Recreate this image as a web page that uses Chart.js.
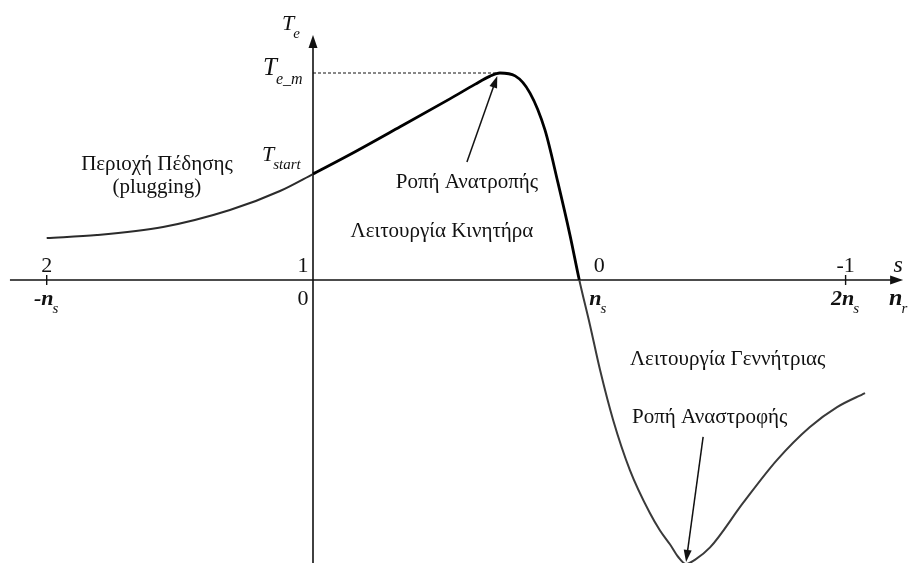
<!DOCTYPE html>
<html>
<head>
<meta charset="utf-8">
<script src="https://cdn.jsdelivr.net/npm/chart.js@4/dist/chart.umd.min.js"></script>
<style>
  html, body { margin: 0; padding: 0; background: #fff; }
  canvas { display: block; }
</style>
</head>
<body>
<canvas id="torqueChart" width="909" height="563"></canvas>
<script>
// rotor speed in units of n_s, and electromagnetic torque in units of T_e_m
const speedRatio = [-1.0, -0.811, -0.563, -0.312, -0.124, 0, 0.139, 0.327, 0.514, 0.608, 0.665, 0.702,
  0.759, 0.815, 0.871, 0.920, 0.965, 1.0, 1.040, 1.078, 1.127, 1.190, 1.265, 1.303, 1.341, 1.371, 1.401,
  1.434, 1.491, 1.615, 1.742, 1.866, 1.968, 2.073];
const torque = [0.203, 0.217, 0.256, 0.338, 0.430, 0.512, 0.606, 0.740, 0.875, 0.945, 0.985, 1.0,
  0.986, 0.903, 0.725, 0.469, 0.217, 0, -0.217, -0.435, -0.676, -0.918, -1.126, -1.210, -1.278, -1.337, -1.372,
  -1.352, -1.292, -1.077, -0.870, -0.710, -0.614, -0.546];

const speedTicks = [-1, 0, 1, 2];
const slipLabels = ['2', '1', '0', '-1'];
const speedLabels = [['-n', 's'], ['0', ''], ['n', 's'], ['2n', 's']];

const startTorque = 0.512;
const maxTorque = 1.0;
const maxTorqueSpeed = 0.702;
const minTorque = -1.372;
const minTorqueSpeed = 1.401;

const serif = '"Liberation Serif", "DejaVu Serif", serif';

function arrow(ctx, x1, y1, x2, y2, head, width) {
  const a = Math.atan2(y2 - y1, x2 - x1);
  ctx.beginPath();
  ctx.moveTo(x1, y1);
  ctx.lineTo(x2 - Math.cos(a) * head * 0.8, y2 - Math.sin(a) * head * 0.8);
  ctx.stroke();
  ctx.beginPath();
  ctx.moveTo(x2, y2);
  ctx.lineTo(x2 - head * Math.cos(a) + width * Math.sin(a), y2 - head * Math.sin(a) - width * Math.cos(a));
  ctx.lineTo(x2 - head * Math.cos(a) - width * Math.sin(a), y2 - head * Math.sin(a) + width * Math.cos(a));
  ctx.closePath();
  ctx.fill();
}

function label(ctx, str, x, y, font, align) {
  ctx.font = font;
  ctx.textAlign = align || 'left';
  ctx.textBaseline = 'alphabetic';
  ctx.fillText(str, x, y);
}

// symbol with a subscript, e.g. T_start
function symbol(ctx, main, sub, x, y, size, subSize, bold) {
  const w = bold ? 'bold ' : '';
  ctx.font = 'italic ' + w + size + 'px ' + serif;
  ctx.textAlign = 'left';
  ctx.fillText(main, x, y);
  const mw = ctx.measureText(main).width;
  ctx.font = 'italic ' + subSize + 'px ' + serif;
  ctx.fillText(sub, x + mw - 1, y + Math.round(size * 0.35));
}

const axesPlugin = {
  id: 'machineAxes',
  beforeDatasetsDraw(chart) {
    const ctx = chart.ctx;
    const xs = chart.scales.x, ys = chart.scales.y;
    const x0 = xs.getPixelForValue(0), y0 = ys.getPixelForValue(0);
    ctx.save();
    ctx.strokeStyle = '#111';
    ctx.fillStyle = '#111';
    ctx.lineWidth = 1.6;
    // speed axis
    arrow(ctx, xs.getPixelForValue(-1.138), y0, xs.getPixelForValue(2.216), y0, 13, 4.5);
    // torque axis
    arrow(ctx, x0, ys.getPixelForValue(ys.min), x0, ys.getPixelForValue(1.184), 13, 4.5);
    // tick marks
    ctx.lineWidth = 1.4;
    [-1, 2].forEach(v => {
      const px = xs.getPixelForValue(v);
      ctx.beginPath();
      ctx.moveTo(px, y0 - 5);
      ctx.lineTo(px, y0 + 5);
      ctx.stroke();
    });
    // dashed level of the breakdown torque
    ctx.lineWidth = 1;
    ctx.setLineDash([3, 2]);
    ctx.beginPath();
    ctx.moveTo(x0, ys.getPixelForValue(maxTorque));
    ctx.lineTo(xs.getPixelForValue(maxTorqueSpeed), ys.getPixelForValue(maxTorque));
    ctx.stroke();
    ctx.restore();
  },
  afterDatasetsDraw(chart) {
    const ctx = chart.ctx;
    const xs = chart.scales.x, ys = chart.scales.y;
    const px = v => xs.getPixelForValue(v);
    const py = v => ys.getPixelForValue(v);
    const x0 = px(0), y0 = py(0);
    ctx.save();
    ctx.fillStyle = '#111';
    ctx.strokeStyle = '#111';

    // slip labels above the axis, speed labels below
    speedTicks.forEach((v, i) => {
      const tx = v === 0 ? x0 - 10 : px(v) + (v === 1 ? 20 : 0);
      label(ctx, slipLabels[i], tx, y0 - 8, '22px ' + serif, 'center');
      const [main, sub] = speedLabels[i];
      if (sub) {
        ctx.font = 'italic bold 22px ' + serif;
        const w = ctx.measureText(main).width;
        let sx = px(v) - w / 2 - 3;
        if (v === 1) sx = px(v) + 10;
        symbol(ctx, main, sub, sx, y0 + 25, 22, 15, true);
      } else {
        label(ctx, main, x0 - 10, y0 + 25, '22px ' + serif, 'center');
      }
    });
    label(ctx, 's', px(2.216) - 5, y0 - 8, 'italic 24px ' + serif, 'center');
    symbol(ctx, 'n', 'r', px(2.216) - 14, y0 + 25, 24, 15, true);

    // torque symbols on the vertical axis
    symbol(ctx, 'T', 'e', x0 - 31, py(1.184) - 5, 22, 15);
    symbol(ctx, 'T', 'e_m', x0 - 50, py(maxTorque) + 2, 25, 16);
    symbol(ctx, 'T', 'start', x0 - 51, py(startTorque) - 13, 22, 15);

    // region captions
    const f = '21px ' + serif;
    label(ctx, 'Περιοχή Πέδησης', px(-0.586), py(0.531), f, 'center');
    label(ctx, '(plugging)', px(-0.586), py(0.421), f, 'center');
    label(ctx, 'Ροπή Ανατροπής', px(0.578), py(0.444), f, 'center');
    label(ctx, 'Λειτουργία Κινητήρα', px(0.484), py(0.208), f, 'center');
    label(ctx, 'Λειτουργία Γεννήτριας', px(1.190), py(-0.411), f, 'left');
    label(ctx, 'Ροπή Αναστροφής', px(1.198), py(-0.691), f, 'left');

    // pointers to the extreme torques
    ctx.lineWidth = 1.5;
    arrow(ctx, px(0.578), py(0.570), px(maxTorqueSpeed - 0.01), py(0.986), 12, 4);
    arrow(ctx, px(1.465), py(-0.758), px(minTorqueSpeed), py(-1.362), 12, 4);
    ctx.restore();
  }
};

new Chart(document.getElementById('torqueChart'), {
  type: 'line',
  data: {
    datasets: [{
      data: speedRatio.map((s, i) => ({ x: s, y: torque[i] })),
      borderColor: '#000',
      borderWidth: 2.6,
      pointRadius: 0,
      cubicInterpolationMode: 'monotone',
      segment: {
        borderColor: c => c.p0.parsed.x < 0 ? '#2b2b2b' : (c.p0.parsed.x >= 1 ? '#3a3a3a' : '#000'),
        borderWidth: c => (c.p0.parsed.x < 0 || c.p0.parsed.x >= 1) ? 2 : 2.8
      }
    }]
  },
  options: {
    responsive: false,
    animation: false,
    layout: { padding: 0 },
    plugins: { legend: { display: false }, tooltip: { enabled: false } },
    scales: {
      x: { type: 'linear', display: false, min: -313 / 266.3, max: 596 / 266.3 },
      y: { type: 'linear', display: false, min: -283 / 207, max: 280 / 207 }
    }
  },
  plugins: [axesPlugin]
});
</script>
</body>
</html>
